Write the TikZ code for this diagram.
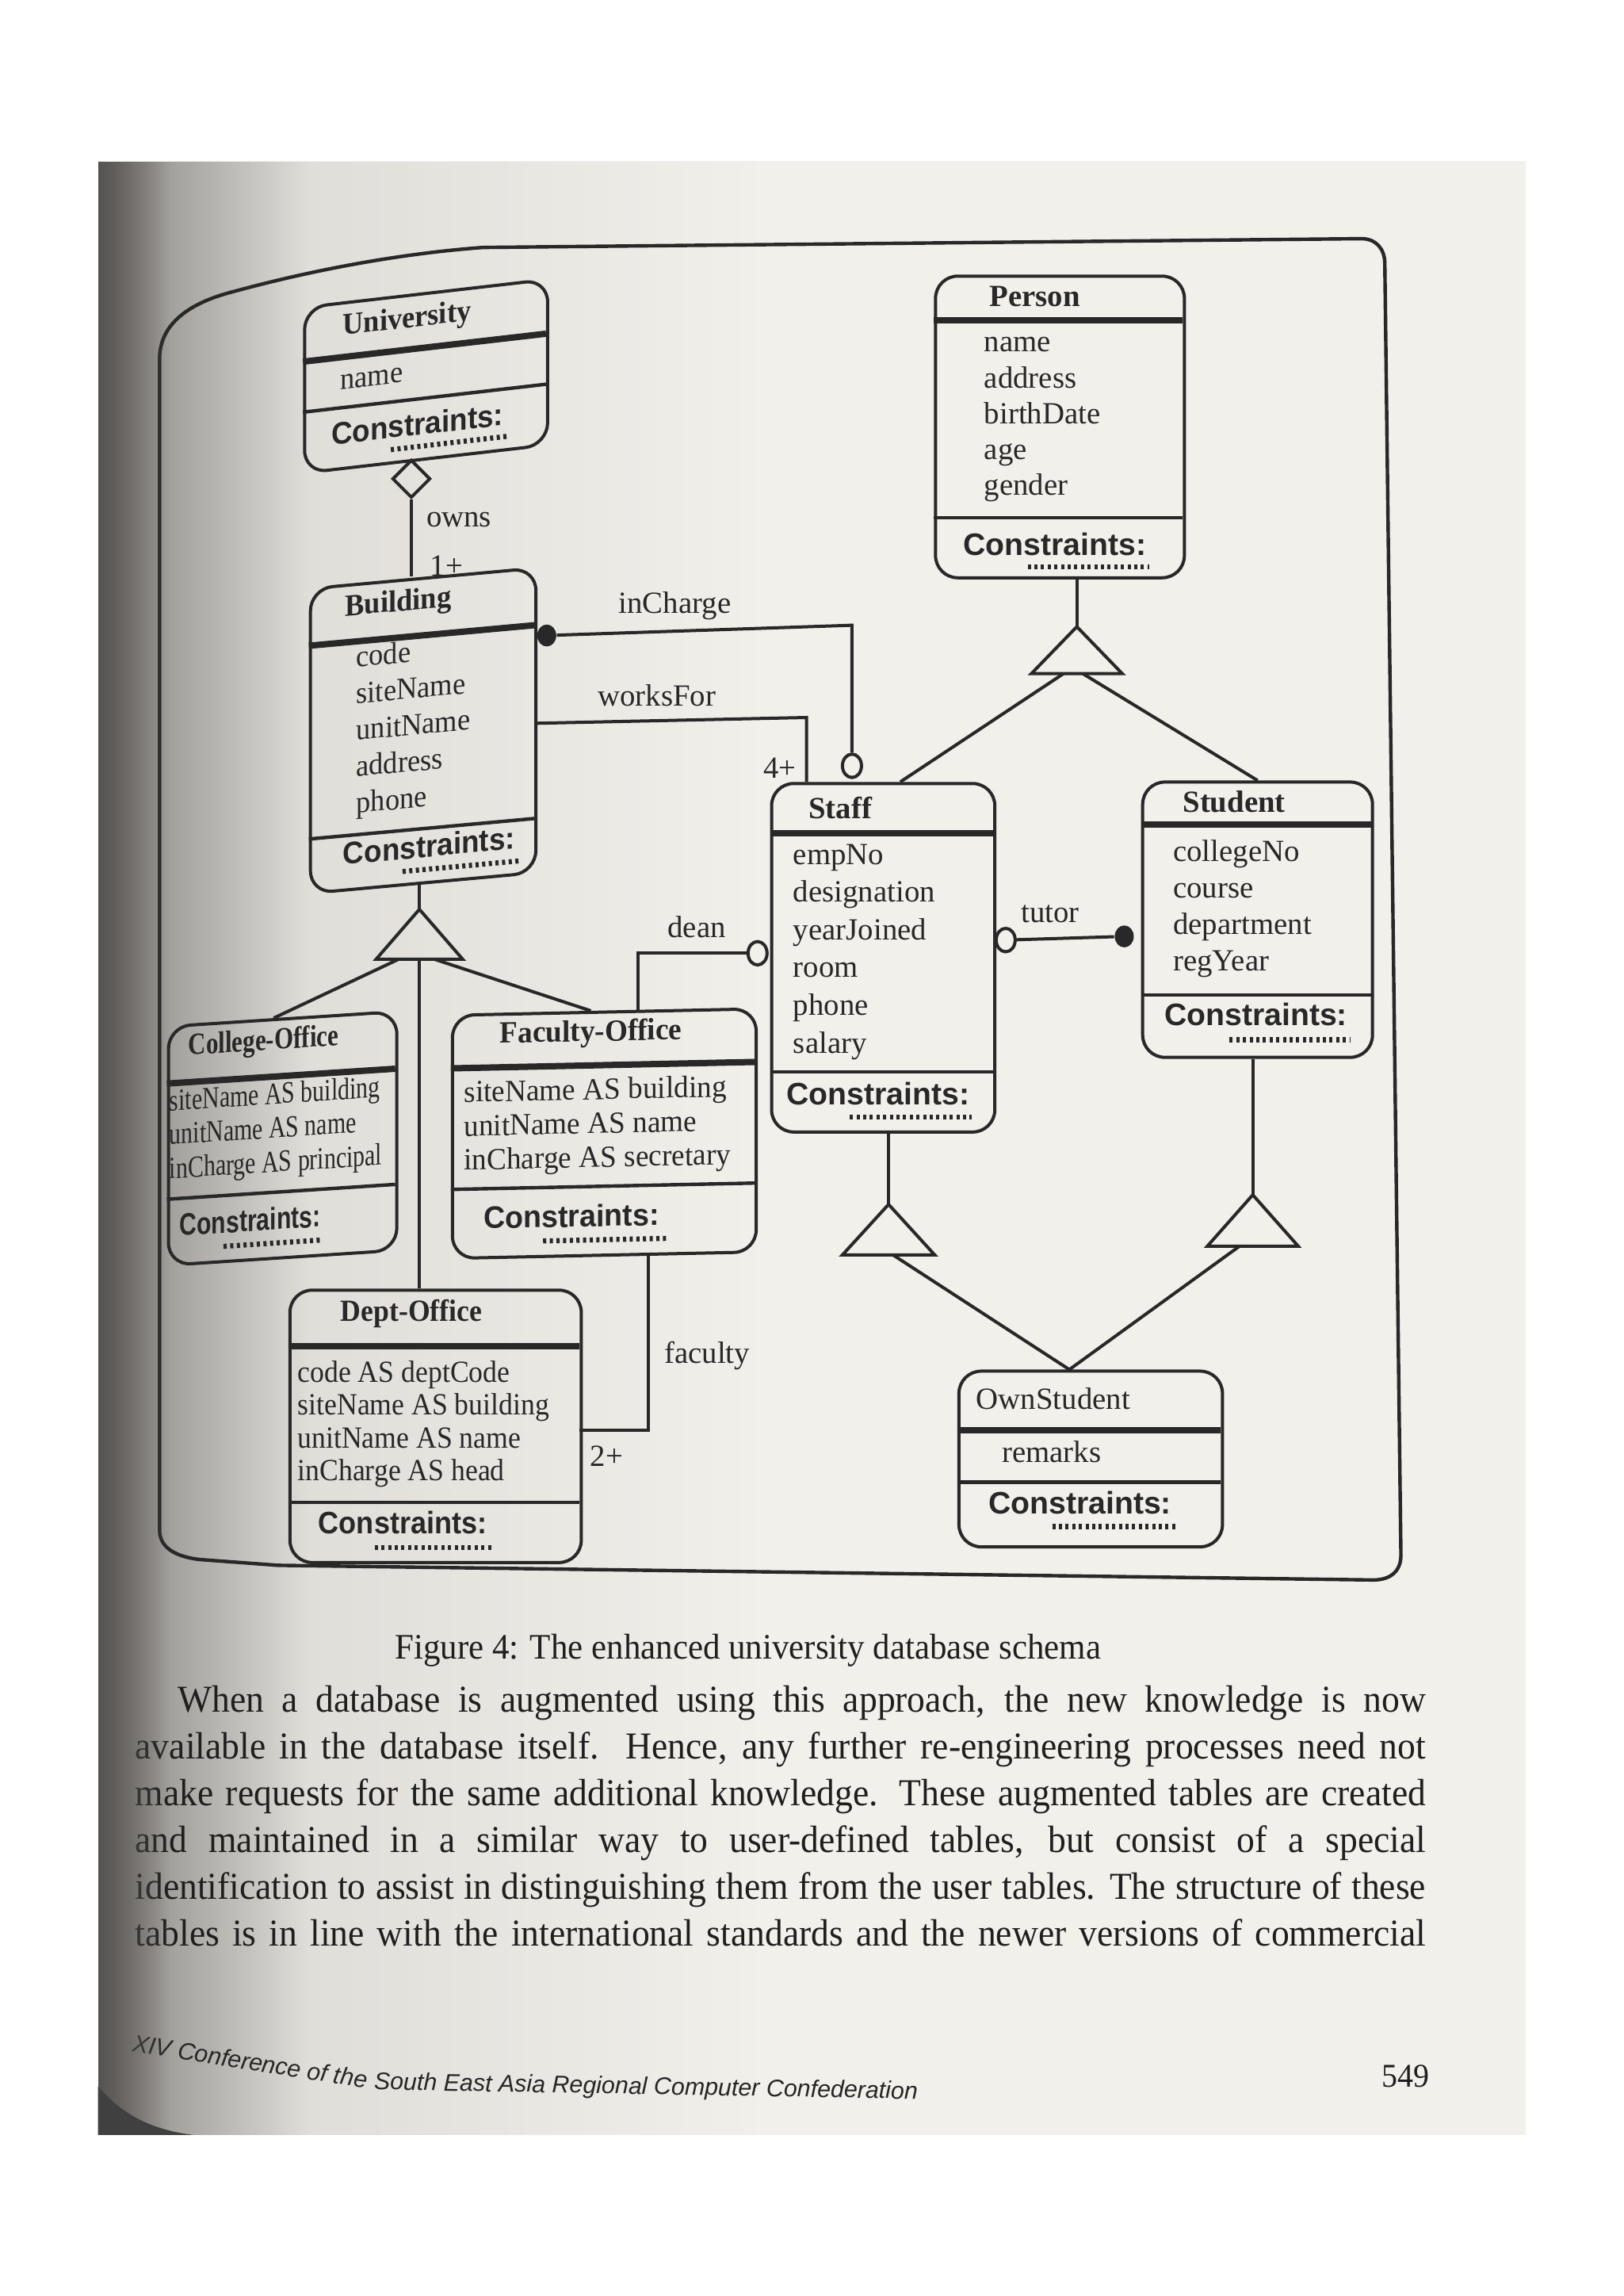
\documentclass[tikz,border=0pt]{standalone}
\usepackage{fontspec}
\setmainfont{Liberation Serif}
\setsansfont{Liberation Sans}
\newfontfamily\corpo[FakeStretch=0.95]{Liberation Serif}
\usetikzlibrary{shapes.geometric,calc,fadings}
\definecolor{carta}{RGB}{242,240,235}
\definecolor{ombra}{RGB}{100,97,94}
\definecolor{inchiostro}{RGB}{40,40,40}
\def\unita{0.46167pt}

\begin{document}
\begin{tikzpicture}[x=\unita, y=-\unita,
	classe/.style={draw=inchiostro, line width=1pt, rounded corners=7pt, inner sep=0pt, anchor=north west},
	spessa/.style={draw=inchiostro, line width=2pt},
	sottile/.style={draw=inchiostro, line width=1.1pt},
	titolo/.style={font=\fontsize{9.7}{11}\selectfont\bfseries, text=inchiostro, inner sep=0pt},
	attr/.style={font=\fontsize{9.7}{#1}\selectfont, text=inchiostro, align=left, anchor=north west, inner sep=0pt},
	vincoli/.style={font=\fontsize{9.8}{11}\selectfont\sffamily\bfseries, text=inchiostro, anchor=west, inner sep=0pt},
	puntini/.style={draw=inchiostro, line width=1.6pt, dash pattern=on 1pt off 1.1pt},
	linea/.style={draw=inchiostro, line width=1pt},
	cornice/.style={draw=inchiostro, line width=1.1pt},
	vuoto/.style={ellipse, draw=inchiostro, fill=carta, line width=1pt, minimum width=13*\unita, minimum height=16*\unita, inner sep=0pt},
	pieno/.style={ellipse, fill=inchiostro, minimum width=13*\unita, minimum height=15*\unita, inner sep=0pt},
	rombo/.style={diamond, draw=inchiostro, line width=1pt, aspect=1, minimum width=26*\unita, minimum height=26*\unita, inner sep=0pt},
	etich/.style={font=\fontsize{9.7}{11}\selectfont, text=inchiostro, inner sep=0pt},
	]
	
	%%=== pagina scansionata ===
	\useasboundingbox (0,0) rectangle (1109,1568);
	\fill[white] (0,0) rectangle (1109,1568);
	\fill[carta] (67,110) rectangle (1042,1458);
	\fill[ombra, opacity=0.7, path fading=east] (67,110) rectangle (210,1458);
	\fill[ombra, opacity=0.18, path fading=east] (67,110) rectangle (520,1458);
	
	% cornice dello schema
	\draw[cornice] (109,1045) -- (109,245) .. controls (109,222) and (128,207) .. (160,199)
		.. controls (215,184) and (275,173) .. (330,169) -- (930,163)
		.. controls (940,163) and (946,170) .. (946,180) -- (957,1062)
		.. controls (957,1073) and (950,1079) .. (938,1079) -- (190,1069) -- (136,1065)
		.. controls (120,1063) and (109,1057) .. (109,1045) -- cycle;
	
	%%=== classi ===
	% University
	\begin{scope}[shift={(207,209)}, yslant=0.115, transform shape]
		\node[classe, minimum width=166*\unita, minimum height=113*\unita] (univ) at (0,0) {};
		\draw[spessa] (0,38) -- (166,38);
		\draw[sottile] (0,72.5) -- (166,72.5);
		\node[titolo, xscale=0.94] at (71,18) {University};
		\node[attr=11.5, xscale=0.94] at (25,49.5) {name};
		\node[vincoli, xscale=0.94] at (19,89.5) {Constraints:};
		\draw[puntini] (60,105) -- (139,105);
	\end{scope}
	
	% Building
	\begin{scope}[shift={(211,401)}, yslant=0.091, transform shape]
		\node[classe, minimum width=154*\unita, minimum height=208*\unita] (build) at (0,0) {};
		\draw[spessa] (0,40) -- (154,40);
		\draw[sottile] (0,172) -- (154,172);
		\node[titolo, xscale=0.94] at (61,17) {Building};
		\node[attr=11.5, xscale=0.94] at (32,42.5) {code\\siteName\\unitName\\address\\phone};
		\node[vincoli, xscale=0.94] at (23,184) {Constraints:};
		\draw[puntini] (64,200) -- (144,200);
		\coordinate (build-wf) at (154,107);
	\end{scope}
	
	% Person
	\begin{scope}[shift={(638,187.5)}]
		\node[classe, minimum width=170*\unita, minimum height=206*\unita] (person) at (0,0) {};
		\draw[spessa] (0,31) -- (170,31);
		\draw[sottile] (0,166) -- (170,166);
		\node[titolo] at (69,15) {Person};
		\node[attr=11.3] at (34,42.5) {name\\address\\birthDate\\age\\gender};
		\node[vincoli] at (19.6,184) {Constraints:};
		\draw[puntini] (64,199.5) -- (147,199.5);
	\end{scope}
	
	% Staff
	\begin{scope}[shift={(526,534)}]
		\node[classe, minimum width=152.5*\unita, minimum height=238*\unita] (staff) at (0,0) {};
		\draw[spessa] (0,35) -- (152.5,35);
		\draw[sottile] (0,198) -- (152.5,198);
		\node[titolo] at (48,18) {Staff};
		\node[attr=11.9] at (15.5,42) {empNo\\designation\\yearJoined\\room\\phone\\salary};
		\node[vincoli] at (11,213) {Constraints:};
		\draw[puntini] (54.5,229) -- (138,229);
		\coordinate (staff-wf) at (25,0);
		\coordinate (staff-isa) at (89,0);
	\end{scope}
	
	% Student
	\begin{scope}[shift={(779.5,533)}]
		\node[classe, minimum width=157*\unita, minimum height=188*\unita] (student) at (0,0) {};
		\draw[spessa] (0,30) -- (157,30);
		\draw[sottile] (0,146.5) -- (157,146.5);
		\node[titolo] at (63.6,14.5) {Student};
		\node[attr=11.5] at (21.5,40.2) {collegeNo\\course\\department\\regYear};
		\node[vincoli] at (15.5,160) {Constraints:};
		\draw[puntini] (60.5,177) -- (143,177);
	\end{scope}
	
	% College-Office
	\begin{scope}[shift={(114,700)}, yslant=0.065, transform shape]
		\node[classe, minimum width=156*\unita, minimum height=163*\unita] (college) at (0,0) {};
		\draw[spessa] (0,40) -- (156,40);
		\draw[sottile] (0,119) -- (156,119);
		\node[titolo, xscale=0.8] at (66,16.5) {College-Office};
		\node[attr=10.7, xscale=0.77] at (1.5,43.7) {siteName AS building\\unitName AS name\\inCharge AS principal};
		\node[vincoli, xscale=0.77] at (8.4,137) {Constraints:};
		\draw[puntini] (38.7,153.7) -- (105.6,153.7);
		\coordinate (coll-top) at (73,0);
	\end{scope}
	
	% Faculty-Office
	\begin{scope}[shift={(308,692.3)}, yslant=0.021, transform shape]
		\node[classe, minimum width=207.5*\unita, minimum height=166*\unita] (faculty) at (0,0) {};
		\draw[spessa] (0,37.3) -- (207.5,37.3);
		\draw[sottile] (0,120) -- (207.5,120);
		\node[titolo, xscale=0.96] at (95.6,15.7) {Faculty-Office};
		\node[attr=10.7, xscale=0.96] at (8.6,45.6) {siteName AS building\\unitName AS name\\inCharge AS secretary};
		\node[vincoli, xscale=0.96] at (22,139.8) {Constraints:};
		\draw[puntini] (63,156.5) -- (147,156.5);
		\coordinate (fac-top) at (95.6,0);
		\coordinate (fac-dean) at (128,0);
		\coordinate (fac-bot) at (135,166);
	\end{scope}
	
	% Dept-Office
	\begin{scope}[shift={(197,880)}]
		\node[classe, minimum width=199*\unita, minimum height=186*\unita] (dept) at (0,0) {};
		\draw[spessa] (0,39.6) -- (199,39.6);
		\draw[sottile] (0,146) -- (199,146);
		\node[titolo, xscale=0.92] at (84,17) {Dept-Office};
		\node[attr=10.3, xscale=0.92] at (6,49.1) {code AS deptCode\\siteName AS building\\unitName AS name\\inCharge AS head};
		\node[vincoli, xscale=0.92] at (20.2,159.7) {Constraints:};
		\draw[puntini] (59,176.8) -- (140,176.8);
		\coordinate (dept-fac) at (199,96.5);
	\end{scope}
	
	% OwnStudent
	\begin{scope}[shift={(654,935.3)}]
		\node[classe, minimum width=180*\unita, minimum height=120*\unita] (own) at (0,0) {};
		\draw[spessa] (0,41.7) -- (180,41.7);
		\draw[sottile] (0,77) -- (180,77);
		\node[titolo, font=\fontsize{9.7}{11}\selectfont, anchor=west] at (12.5,20) {OwnStudent};
		\node[attr=11.5] at (30,48.5) {remarks};
		\node[vincoli] at (20.8,91.2) {Constraints:};
		\draw[puntini] (64.8,107.3) -- (149,107.3);
		\coordinate (own-top) at (76.5,0);
	\end{scope}
	
	%%=== generalizzazioni (triangoli) ===
	\draw[linea] (735.6,428) coordinate (isaP) -- ++(31,32) -- ++(-62,0) -- cycle;
	\coordinate (isaPb) at (735.6,460);
	\draw[linea] (286.5,621) coordinate (isaB) -- ++(29.5,34) -- ++(-59,0) -- cycle;
	\coordinate (isaBb) at (286.5,655);
	\draw[linea] (607,822.5) coordinate (isaS) -- ++(31.5,34.5) -- ++(-63,0) -- cycle;
	\coordinate (isaSb) at (607,857);
	\draw[linea] (855.8,816) coordinate (isaT) -- ++(31,35) -- ++(-62,0) -- cycle;
	\coordinate (isaTb) at (855.8,851);
	
	\draw[linea] (isaP) -- (isaP |- person.south);
	\draw[linea] ($(isaPb)+(-9,0)$) -- (staff-isa);
	\draw[linea] ($(isaPb)+(4,0)$) -- (student.north);
	
	\draw[linea] (isaB) -- (isaB |- build.south);
	\draw[linea] ($(isaBb)+(-14,0)$) -- (coll-top);
	\draw[linea] ($(isaBb)+(10,0)$) -- (fac-top);
	\draw[linea] (isaBb) -- (isaBb |- dept.north);
	
	\draw[linea] (isaS) -- (isaS |- staff.south);
	\draw[linea] ($(isaSb)+(3,0)$) -- (own-top);
	\draw[linea] (isaT) -- (isaT |- student.south);
	\draw[linea] ($(isaTb)+(-9,0)$) -- (own-top);
	
	%%=== associazioni ===
	% owns (aggregazione)
	\node[rombo] (possiede) at (281,327) {};
	\draw[linea] (possiede.south) -- (possiede.south |- build.north);
	\node[etich] (lOwns) at (313.5,354.7) {owns};
	\node[etich] (lUno) at (305,386.5) {1+};
	
	% inCharge
	\node[pieno] (dotInc) at (373.5,434) {};
	\node[vuoto] (circInc) at (582,523) {};
	\coordinate (gomitoInc) at (582,427);
	\draw[linea] (dotInc) -- (gomitoInc) -- (circInc);
	\node[etich] (lInc) at (461,414) {inCharge};
	
	% worksFor
	\coordinate (gomitoWf) at (551,490);
	\draw[linea] (build-wf) -- (gomitoWf) -- (staff-wf);
	\node[etich] (lWf) at (448.7,475) {worksFor};
	\node[etich] (lQuattro) at (532.7,524.6) {4+};
	
	% dean
	\node[vuoto] (circDean) at (517.5,651) {};
	\draw[linea] (circDean) -| (fac-dean);
	\node[etich] (lDean) at (476,633) {dean};
	
	% tutor
	\node[vuoto] (circTut) at (687,642) {};
	\node[pieno] (dotTut) at (768,639.5) {};
	\draw[linea] (circTut) -- (dotTut);
	\node[etich] (lTutor) at (717.4,624) {tutor};
	
	% faculty
	\draw[linea] (fac-bot) |- (dept-fac);
	\node[etich] (lFac) at (483,926) {faculty};
	\node[etich] (lDue) at (414.5,994.6) {2+};
	
	%%=== testo della pagina ===
	\node[font=\corpo\fontsize{11.3}{13}\selectfont, text=black!88] (didascalia) at (511,1127) {Figure 4: The enhanced university database schema};
	
	\node[anchor=north west, inner sep=0pt, align=left, font=\corpo\fontsize{12}{14.7}\selectfont, text=black!88] (testo) at (92,1151) {%
		\hbox to 407pt{\hspace{13.4pt}When a database is augmented using this approach, the new knowledge is now}\\
		\hbox to 407pt{available in the database itself. Hence, any further re-engineering processes need not}\\
		\hbox to 407pt{make requests for the same additional knowledge. These augmented tables are created}\\
		\hbox to 407pt{and maintained in a similar way to user-defined tables, but consist of a special}\\
		\hbox to 407pt{identification to assist in distinguishing them from the user tables. The structure of these}\\
		\hbox to 407pt{tables is in line with the international standards and the newer versions of commercial}};
	
	% pie' di pagina
	\node[font=\sffamily\itshape\fontsize{7.6}{9}\selectfont, text=black!85, anchor=base west, inner sep=0pt, rotate=-1] (conv2) at (255,1427) {South East Asia Regional Computer Confederation};
	\node[font=\sffamily\itshape\fontsize{7.6}{9}\selectfont, text=black!85, anchor=base east, inner sep=0pt, rotate=-9] (conv1) at (conv2.base west) {XIV Conference of the\kern0.28em};
	\node[font=\corpo\fontsize{10.5}{12}\selectfont, text=black!88] (numpag) at (960,1418) {549};
	
	% piega della rilegatura sopra il margine sinistro
	\fill[ombra!85!black, path fading=east] (67,110) rectangle (116,1458);
	\fill[black!75] (67,1425) .. controls (82,1442) and (100,1454) .. (132,1458) -- (67,1458) -- cycle;
	
\end{tikzpicture}
\end{document}
